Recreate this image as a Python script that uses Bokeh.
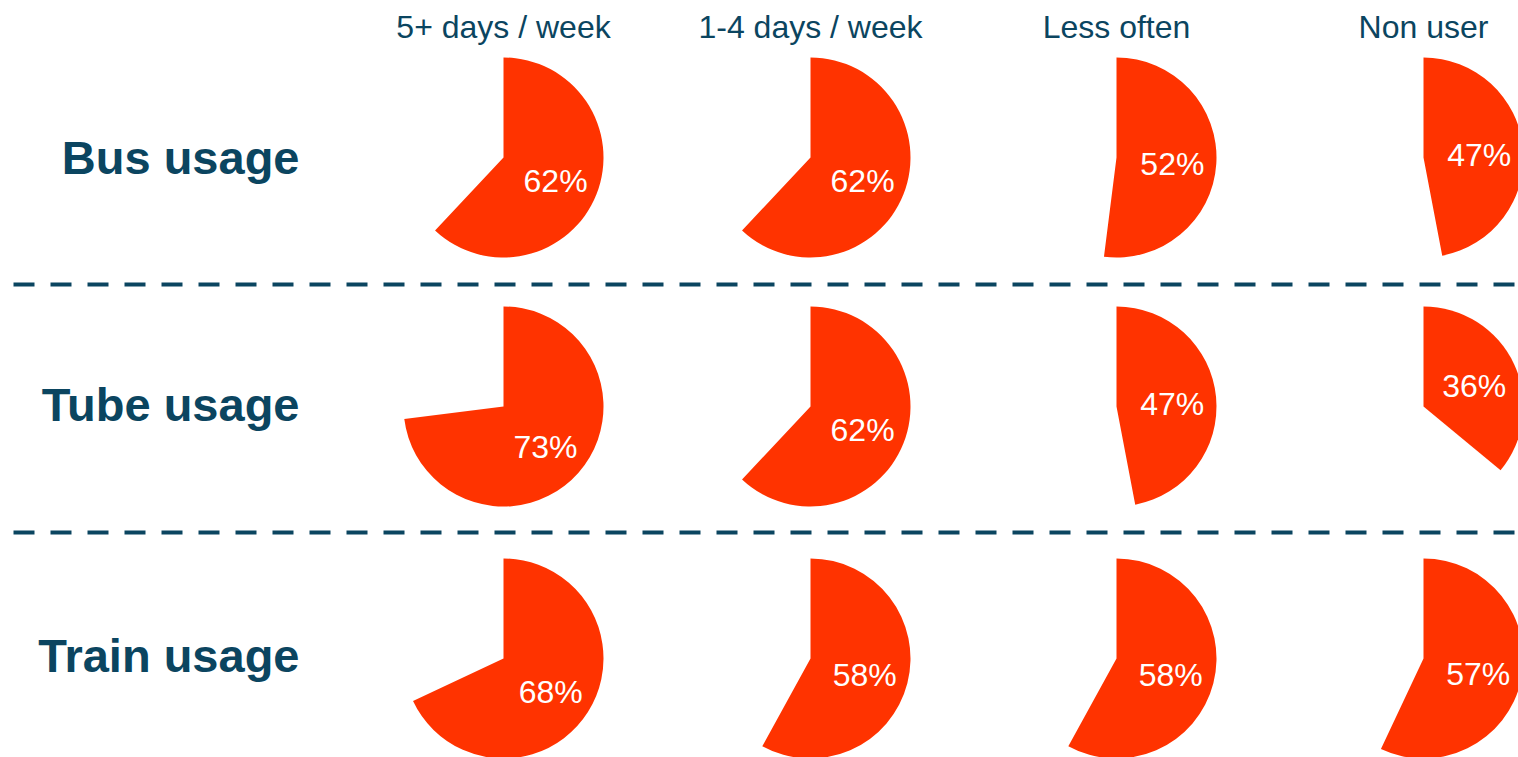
import math
from bokeh.plotting import figure
from bokeh.models import Range1d, ColumnDataSource
from bokeh.core.properties import value
from bokeh.embed import file_html
from bokeh.resources import INLINE

# ---- data ----
frequencies = ["5+ days / week", "1-4 days / week", "Less often", "Non user"]
modes = ["Bus usage", "Tube usage", "Train usage"]
bus_pct = [62, 62, 52, 47]
tube_pct = [73, 62, 47, 36]
train_pct = [68, 58, 58, 57]
all_pct = [bus_pct, tube_pct, train_pct]

# ---- layout (screen pixel coordinates; data y = -screen y) ----
W, H = 1518, 757
col_x = [503, 810, 1116, 1423]
row_y = [157, 406, 658]
title_y = [157, 404, 655]
sep_y = [284, 532]
R = 100
LABEL_R = 56
LABEL_DY = 3
PIE = "#FF3300"
DARK = "#0B4560"
FONT = "Liberation Sans"

p = figure(width=W, height=H, output_backend="svg", toolbar_location=None,
           x_range=Range1d(0, W), y_range=Range1d(-H, 0),
           min_border=0, outline_line_color=None)
p.axis.visible = False
p.grid.visible = False
p.background_fill_color = "white"
p.border_fill_color = "white"

xs, ys, starts, ends, lx, ly, lt = [], [], [], [], [], [], []
for ri, row in enumerate(all_pct):
    for ci, pct in enumerate(row):
        cx, cy = col_x[ci], -row_y[ri]
        sweep = 2 * math.pi * pct / 100.0
        xs.append(cx); ys.append(cy)
        starts.append(math.pi / 2 - sweep); ends.append(math.pi / 2)
        mid = math.pi / 2 - sweep / 2
        lx.append(cx + LABEL_R * math.cos(mid))
        ly.append(cy + LABEL_R * math.sin(mid) - LABEL_DY)
        lt.append(f"{pct}%")

src = ColumnDataSource(dict(x=xs, y=ys, s=starts, e=ends))
p.wedge(x="x", y="y", radius=R, start_angle="s", end_angle="e",
        direction="anticlock", source=src, fill_color=PIE, line_color=None)

p.text(x=lx, y=ly, text=lt, text_color="white", text_font=value(FONT),
       text_font_size="32px", text_align="center", text_baseline="middle")

# column headers
p.text(x=col_x, y=[-26] * 4, text=frequencies, text_color=DARK,
       text_font=value(FONT), text_font_size="32px",
       text_align="center", text_baseline="middle")

# row titles
p.text(x=[299] * 3, y=[-v for v in title_y], text=modes, text_color=DARK,
       text_font=value(FONT), text_font_size="47px", text_font_style="bold",
       text_align="right", text_baseline="middle")

# dashed separators
for sy in sep_y:
    p.line(x=[13, W], y=[-sy, -sy], line_color=DARK, line_width=4,
           line_dash="21 16")

open("out.html", "w").write(file_html(p, INLINE))
